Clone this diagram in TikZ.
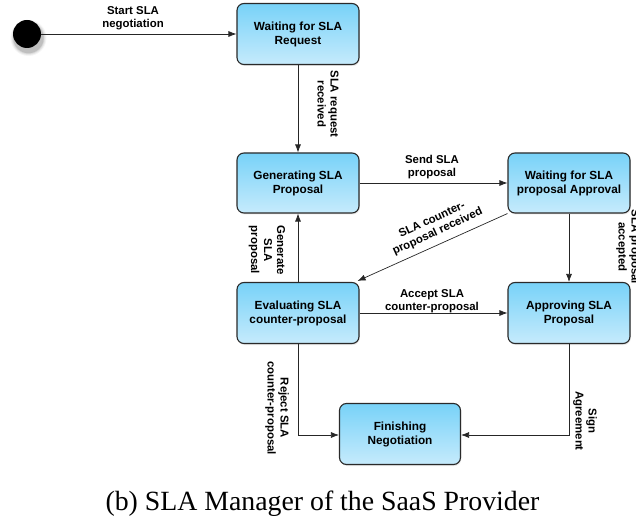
\documentclass[tikz,border=0pt]{standalone}
\usepackage{fontspec}
\setmainfont{Liberation Serif}
\newfontfamily\diagfont{Liberation Sans}
\usetikzlibrary{arrows.meta,shadows,calc}
\definecolor{boxtop}{HTML}{78D2F8}
\definecolor{boxbot}{HTML}{C6EBFC}
\definecolor{boxline}{HTML}{2A2A2A}
\tikzset{
  statebox/.style={draw=boxline, line width=1.1pt, rounded corners=7pt,
    top color=boxtop, bottom color=boxbot, align=center,
    font=\diagfont\bfseries\fontsize{11.8}{14}\selectfont,
    minimum width=122pt, minimum height=61pt, inner sep=0pt,
    drop shadow={opacity=0.18, shadow xshift=0.8pt, shadow yshift=-1.5pt}},
  conn/.style={draw=black!85, line width=0.7pt, -{Latex[length=8pt,width=6pt]}},
  lbl/.style={font=\diagfont\bfseries\fontsize{11.4}{13}\selectfont, align=center, inner sep=0pt},
}
\begin{document}
\begin{tikzpicture}[x=1pt,y=-1pt]
\useasboundingbox (0,0) rectangle (636,518);
% initial state with soft shadow
\foreach \r/\o in {18/0.04,17/0.06,16/0.08,15.2/0.1}{
  \fill[black,opacity=\o] (28.5,38) circle (\r);
}
\node[circle, fill=black, minimum size=28pt, inner sep=0pt] (init) at (27,34) {};
% states
\node[statebox] (wreq) at (298,34) {Waiting for SLA\\Request};
\node[statebox, minimum height=60pt] (gen) at (298,183) {Generating SLA\\Proposal};
\node[statebox, minimum height=60pt] (wapp) at (569,183) {Waiting for SLA\\proposal Approval};
\node[statebox] (eval) at (298,313) {Evaluating SLA\\counter-proposal};
\node[statebox] (appr) at (569,313) {Approving SLA\\Proposal};
\node[statebox, minimum width=121pt] (fin) at (400,434) {Finishing\\Negotiation};
% connectors
\draw[conn] (init) -- (wreq);
\draw[conn] (wreq) -- (gen);
\draw[conn] (gen) -- (wapp);
\draw[conn] (wapp) -- (appr);
\draw[conn] (wapp.south west) -- ($(eval.north east)+(-2,-1)$);
\draw[conn] (eval) -- (gen);
\draw[conn] (eval) -- (appr);
\draw[conn] (eval.south) |- ($(fin.west)+(0,1)$);
\draw[conn] (appr.south) |- ($(fin.east)+(0,1)$);
% labels
\node[lbl] (lstart) at (133,18) {Start SLA\\negotiation};
\node[lbl, rotate=-90] (lreq) at (328,104) {SLA request\\received};
\node[lbl] (lsend) at (432,167) {Send SLA\\proposal};
\node[lbl, rotate=24.8] (lcounter) at (435,226) {SLA counter-\\proposal received};
\node[lbl, rotate=-90] (lgen) at (267,250) {Generate\\SLA\\proposal};
\node[lbl] (lacc) at (432,301) {Accept SLA\\counter-proposal};
\node[lbl, rotate=-90] (lacpt) at (628,247) {SLA proposal\\accepted};
\node[lbl, rotate=-90] (lrej) at (277,408) {Reject SLA\\counter-proposal};
\node[lbl, rotate=-90] (lsign) at (585,421) {Sign\\Agreement};
% caption
\node[anchor=base, font=\fontsize{27.8}{30}\selectfont, inner sep=0pt] (cap) at (322.5,510) {(b) SLA Manager of the SaaS Provider};
\end{tikzpicture}
\end{document}
